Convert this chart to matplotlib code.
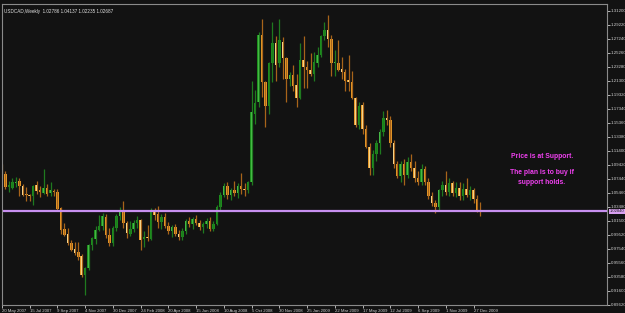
import numpy as np
import matplotlib.pyplot as plt

# weekly USDCAD bars, first bar = 20 May 2007
opens = [1.0915, 1.0817, 1.0634, 1.0620, 1.0691, 1.0719, 1.0648, 1.0522, 1.0508, 1.0494,
         1.0663, 1.0592, 1.0550, 1.0620, 1.0550, 1.0578, 1.0564, 1.0326, 1.0031, 0.9961,
         0.9834, 0.9750, 0.9708, 0.9652, 0.9385, 0.9484, 0.9806, 0.9891, 1.0017, 1.0073,
         1.0199, 0.9947, 0.9834, 1.0045, 1.0213, 1.0284, 1.0115, 0.9961, 1.0031, 1.0115,
         1.0157, 0.9891, 0.9919, 0.9891, 1.0270, 1.0241, 1.0129, 1.0200, 1.0080, 1.0000,
         1.0060, 0.9960, 0.9920, 1.0000, 1.0150, 1.0100, 1.0170, 1.0120, 1.0060, 1.0100,
         1.0150, 1.0030, 1.0110, 1.0350, 1.0520, 1.0640, 1.0510, 1.0590, 1.0550, 1.0640,
         1.0600, 1.0580, 1.0700, 1.1660, 1.1828, 1.2783, 1.2109, 1.1772, 1.2389, 1.2670,
         1.2389, 1.2684, 1.2460, 1.2151, 1.2207, 1.2067, 1.1884, 1.2432, 1.2320, 1.2277,
         1.2221, 1.2389, 1.2502, 1.2769, 1.2853, 1.2726, 1.2389, 1.2389, 1.2291, 1.2249,
         1.2137, 1.2109, 1.1884, 1.1505, 1.1786, 1.1450, 1.1200, 1.0900, 1.1100, 1.1250,
         1.1400, 1.1600, 1.1580, 1.1250, 1.0950, 1.0780, 1.0950, 1.0800, 1.0980, 1.0900,
         1.0750, 1.0700, 1.0880, 1.0700, 1.0500, 1.0400, 1.0340, 1.0580, 1.0660, 1.0560,
         1.0680, 1.0550, 1.0620, 1.0500, 1.0600, 1.0520, 1.0580, 1.0460, 1.02786]
highs = [1.0957, 1.0859, 1.0719, 1.0761, 1.0775, 1.0761, 1.0677, 1.0634, 1.0522, 1.0662,
         1.0719, 1.0648, 1.0887, 1.0677, 1.0705, 1.0606, 1.0606, 1.0340, 1.0115, 1.0045,
         0.9876, 0.9848, 0.9848, 0.9680, 0.9497, 0.9820, 0.9919, 1.0073, 1.0227, 1.0255,
         1.0241, 1.0045, 1.0073, 1.0241, 1.0340, 1.0424, 1.0143, 1.0143, 1.0157, 1.0213,
         1.0171, 1.0003, 1.0087, 1.0326, 1.0326, 1.0354, 1.0240, 1.0260, 1.0130, 1.0090,
         1.0100, 1.0020, 1.0050, 1.0180, 1.0210, 1.0200, 1.0230, 1.0160, 1.0130, 1.0190,
         1.0200, 1.0140, 1.0380, 1.0560, 1.0680, 1.0700, 1.0620, 1.0720, 1.0690, 1.0820,
         1.0680, 1.0720, 1.2123, 1.1996, 1.2825, 1.3007, 1.2123, 1.2404, 1.2965, 1.2769,
         1.3007, 1.2755, 1.2474, 1.2249, 1.2361, 1.2221, 1.2670, 1.2769, 1.2418, 1.2530,
         1.2544, 1.2614, 1.2783, 1.2965, 1.3063, 1.2783, 1.2572, 1.2712, 1.2474, 1.2305,
         1.2502, 1.2263, 1.1898, 1.1828, 1.1828, 1.1500, 1.1250, 1.1150, 1.1300, 1.1450,
         1.1700, 1.1720, 1.1630, 1.1300, 1.1000, 1.1000, 1.1020, 1.1050, 1.1100, 1.1000,
         1.0850, 1.0950, 1.0920, 1.0750, 1.0560, 1.0450, 1.0600, 1.0720, 1.0850, 1.0750,
         1.0720, 1.0700, 1.0700, 1.0680, 1.0750, 1.0640, 1.0620, 1.0520, 1.04137]
lows = [1.0747, 1.0606, 1.0564, 1.0606, 1.0634, 1.0494, 1.0494, 1.0424, 1.0424, 1.0368,
        1.0536, 1.0480, 1.0536, 1.0494, 1.0494, 1.0494, 1.0298, 0.9961, 0.9933, 0.9806,
        0.9722, 0.9666, 0.9596, 0.9357, 0.9104, 0.9455, 0.9736, 0.9820, 1.0003, 1.0017,
        0.9905, 0.9792, 0.9792, 1.0003, 1.0157, 1.0045, 0.9905, 0.9933, 0.9989, 1.0045,
        0.9736, 0.9778, 0.9862, 0.9876, 1.0157, 1.0045, 1.0040, 1.0050, 0.9960, 0.9920,
        0.9930, 0.9880, 0.9880, 0.9960, 1.0060, 1.0030, 1.0090, 1.0020, 0.9970, 1.0050,
        1.0000, 1.0000, 1.0090, 1.0300, 1.0480, 1.0460, 1.0450, 1.0500, 1.0470, 1.0530,
        1.0500, 1.0550, 1.0660, 1.1520, 1.1758, 1.1898, 1.1477, 1.1660, 1.2109, 1.2123,
        1.2333, 1.2151, 1.1828, 1.2053, 1.1982, 1.1758, 1.1870, 1.2025, 1.2025, 1.2193,
        1.2123, 1.2333, 1.2474, 1.2712, 1.2614, 1.2193, 1.2193, 1.2263, 1.2151, 1.1982,
        1.1982, 1.1870, 1.1477, 1.1449, 1.1379, 1.1180, 1.0800, 1.0800, 1.1000, 1.1100,
        1.1350, 1.1500, 1.1200, 1.0900, 1.0750, 1.0700, 1.0650, 1.0750, 1.0850, 1.0700,
        1.0650, 1.0650, 1.0660, 1.0460, 1.0360, 1.0255, 1.0300, 1.0500, 1.0520, 1.0500,
        1.0500, 1.0480, 1.0450, 1.0450, 1.0480, 1.0440, 1.0400, 1.0280, 1.02235]
closes = [1.0789, 1.0634, 1.0663, 1.0705, 1.0705, 1.0648, 1.0508, 1.0508, 1.0494, 1.0648,
          1.0578, 1.0564, 1.0620, 1.0536, 1.0592, 1.0564, 1.0312, 1.0017, 0.9947, 0.9834,
          0.9736, 0.9694, 0.9638, 0.9385, 0.9484, 0.9806, 0.9905, 1.0017, 1.0073, 1.0213,
          0.9947, 0.9834, 1.0045, 1.0213, 1.0284, 1.0115, 0.9975, 1.0031, 1.0115, 1.0157,
          0.9876, 0.9919, 0.9905, 1.0270, 1.0227, 1.0129, 1.0200, 1.0080, 1.0000, 1.0060,
          0.9960, 0.9920, 1.0000, 1.0150, 1.0100, 1.0170, 1.0120, 1.0060, 1.0100, 1.0150,
          1.0030, 1.0110, 1.0350, 1.0520, 1.0640, 1.0510, 1.0590, 1.0550, 1.0640, 1.0600,
          1.0580, 1.0700, 1.1688, 1.1814, 1.2783, 1.2109, 1.1772, 1.2389, 1.2670, 1.2361,
          1.2712, 1.2460, 1.2151, 1.2207, 1.2053, 1.1884, 1.2432, 1.2320, 1.2277, 1.2221,
          1.2404, 1.2502, 1.2769, 1.2853, 1.2726, 1.2389, 1.2404, 1.2277, 1.2249, 1.2123,
          1.2109, 1.1884, 1.1505, 1.1772, 1.1449, 1.1200, 1.0900, 1.1100, 1.1250, 1.1400,
          1.1600, 1.1580, 1.1250, 1.0950, 1.0780, 1.0950, 1.0800, 1.0980, 1.0900, 1.0750,
          1.0700, 1.0880, 1.0700, 1.0500, 1.0400, 1.0340, 1.0580, 1.0660, 1.0560, 1.0680,
          1.0550, 1.0620, 1.0500, 1.0600, 1.0520, 1.0580, 1.0460, 1.0300, 1.02687]

date_labels = ['20 May 2007', '15 Jul 2007', '9 Sep 2007', '4 Nov 2007', '30 Dec 2007',
               '24 Feb 2008', '20 Apr 2008', '15 Jun 2008', '10 Aug 2008', '5 Oct 2008',
               '30 Nov 2008', '25 Jan 2009', '22 Mar 2009', '17 May 2009', '12 Jul 2009',
               '6 Sep 2009', '1 Nov 2009', '27 Dec 2009']
price_ticks = [1.31200, 1.29220, 1.27240, 1.25260, 1.23280, 1.21300, 1.19320, 1.17340,
               1.15360, 1.13380, 1.11400, 1.09420, 1.07440, 1.05460, 1.03480, 1.01500,
               0.99520, 0.97540, 0.95560, 0.93580, 0.91600, 0.89620]
support = 1.0284
header = 'USDCAD,Weekly  1.02786 1.04137 1.02235 1.02687'

bg = '#121212'
bull, bull_hi, bull_wick = '#1c8f1c', '#4cc24c', '#1f7a1f'
bear, bear_hi, bear_wick = '#e89a2a', '#ffe39a', '#a8641a'
font = 'Liberation Sans'

o = np.array(opens)
h = np.array(highs)
l = np.array(lows)
c = np.array(closes)
x = np.arange(len(o))
up = c >= o

fig = plt.figure(figsize=(6.25, 3.13), dpi=100, facecolor=bg)
ax = fig.add_axes([2 / 625, 1 - 305 / 313, 605 / 625, 301 / 313])
ax.set_facecolor(bg)

ax.vlines(x[up], l[up], h[up], color=bull_wick, lw=0.9)
ax.vlines(x[~up], l[~up], h[~up], color=bear_wick, lw=0.9)

bot = np.minimum(o, c)
ht = np.maximum(np.abs(c - o), 0.0012)
ax.bar(x[up], ht[up], bottom=bot[up], width=0.72, color=bull, lw=0)
ax.bar(x[up], ht[up], bottom=bot[up], width=0.25, color=bull_hi, lw=0)
ax.bar(x[~up], ht[~up], bottom=bot[~up], width=0.72, color=bear, lw=0)
ax.bar(x[~up], ht[~up], bottom=bot[~up], width=0.25, color=bear_hi, lw=0)

ax.axhline(support, color='#c890f0', lw=1.6)

ax.set_xlim(0.2, 174.5)
ax.set_ylim(0.8958, 1.3218)

ax.yaxis.tick_right()
ax.set_yticks(price_ticks)
ax.set_yticklabels(['%.5f' % t for t in price_ticks], fontfamily=font, fontsize=3.2)
ax.set_xticks(np.arange(len(date_labels)) * 8)
ax.set_xticklabels(date_labels, ha='left', fontfamily=font, fontsize=3.1)
ax.tick_params(colors='#d0d0d0', length=2, width=0.6, pad=0.6)
for s in ax.spines.values():
    s.set_color('#8a8a8a')
    s.set_linewidth(0.8)

ax.text(1.005, support, '%.5f' % support, transform=ax.get_yaxis_transform(),
        fontsize=3.0, fontfamily=font, color='#202020', va='center', ha='left',
        bbox=dict(boxstyle='square,pad=0.15', fc='#d8a0f0', ec='none'))

fig.text(4 / 625, 1 - 11 / 313, header, color='#e0e0e0', fontsize=3.3,
         fontfamily=font, va='center')

note_x = 542 / 625
note = dict(color='#f040f0', fontsize=4.9, fontweight='bold', fontfamily=font,
            ha='center', va='center')
fig.text(note_x, 1 - 157 / 313, 'Price is at Support.', **note)
fig.text(note_x, 1 - 173 / 313, 'The plan is to buy if', **note)
fig.text(note_x, 1 - 182.5 / 313, 'support holds.', **note)

fig.savefig('out.png', dpi=100, facecolor=bg)
